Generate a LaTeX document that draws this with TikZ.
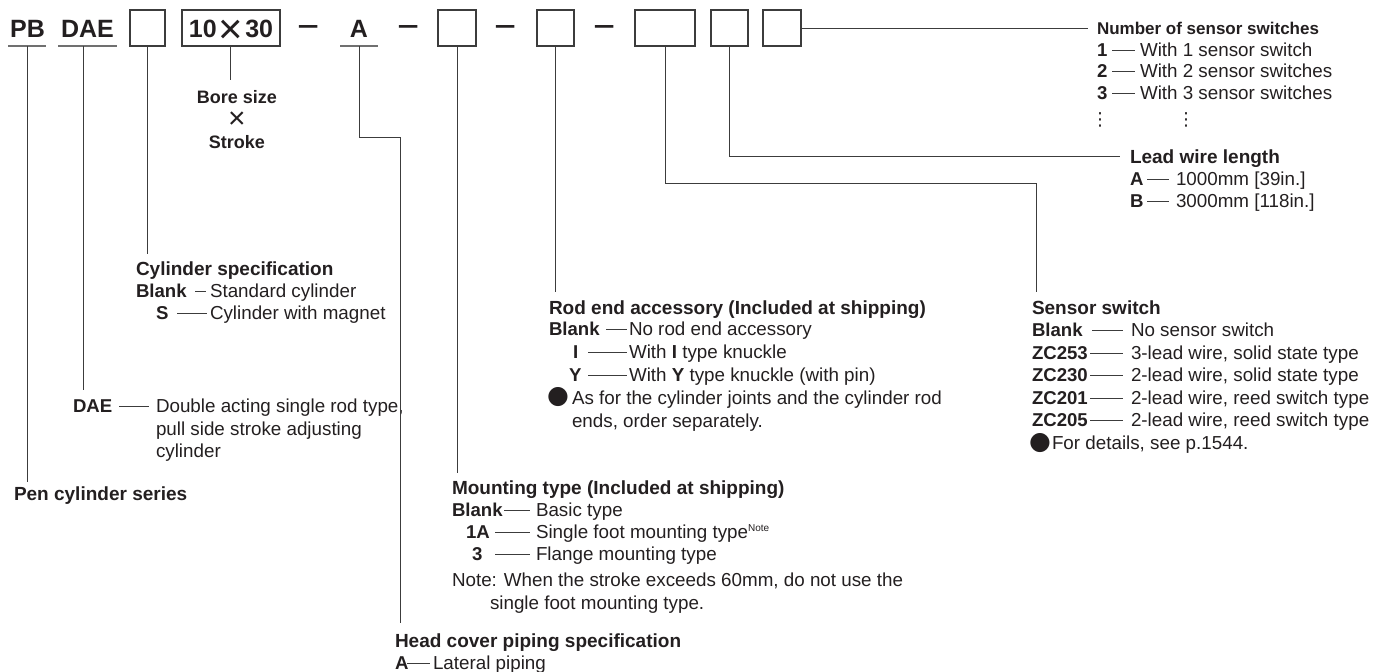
\documentclass[tikz,border=0pt]{standalone}
\usepackage{fontspec}
\setmainfont{Liberation Sans}
\newfontfamily\djv{DejaVu Sans}
\definecolor{ink}{HTML}{231F20}
\definecolor{ln}{HTML}{3C3C3C}
\definecolor{ul}{HTML}{707070}
\tikzset{
  every node/.style={inner sep=0pt, outer sep=0pt, text=ink},
  tx/.style={anchor=base west, font=\fontsize{18.8}{22}\selectfont},
  kb/.style={anchor=base west, font=\fontsize{18.6}{22}\selectfont\bfseries},
  hd/.style={anchor=base west, font=\fontsize{19}{22}\selectfont\bfseries},
  ttl/.style={anchor=base, font=\fontsize{25}{28}\selectfont\bfseries},
  boxs/.style={draw=ln, line width=1.2pt, minimum height=36pt},
  lead/.style={draw=ln, line width=1pt},
  dsh/.style={draw=ln, line width=0.8pt},
  uline/.style={draw=ul, line width=1.5pt},
  sep/.style={anchor=base, font=\fontsize{38}{38}\selectfont},
  bul/.style={font=\djv\fontsize{25}{25}\selectfont},
}
% name, keyx, dash start, dash end, text x, baseline, key, text
\newcommand\opt[8]{%
  \node[kb] (#1k) at (#2,#6) {#7};
  \node[tx] (#1t) at (#5,#6) {#8};
  \draw[dsh] (#3,#6-6) -- ([yshift=6pt]#1t.base west -| #4,0);
}
\begin{document}
\begin{tikzpicture}[x=1pt,y=-1pt]
\useasboundingbox (0,0) rectangle (1385,672);

% ---- code line ----
\node[ttl] (pb) at (27.5,37.5) {PB};
\node[ttl] (dae) at (87.5,37.5) {DAE};
\node[boxs, minimum width=35pt] (b1) at (147.5,28) {};
\node[boxs, minimum width=98pt, text height=18.6pt, text depth=0pt] (b2) at (231,28) {\fontsize{25}{26}\selectfont\bfseries 10\hspace{2pt}\raisebox{-6pt}{\fontsize{42}{42}\selectfont\mdseries ×}\hspace{2pt}30};
\node[sep] (s1) at (309,39) {−};
\node[ttl] (a) at (359,37.5) {A};
\node[sep] (s2) at (408.5,39) {−};
\node[boxs, minimum width=38pt] (b3) at (457,28) {};
\node[sep] (s3) at (506,39) {−};
\node[boxs, minimum width=37pt] (b4) at (555.5,28) {};
\node[sep] (s4) at (604.5,39) {−};
\node[boxs, minimum width=60pt] (b5) at (665,28) {};
\node[boxs, minimum width=37pt] (b6) at (729.5,28) {};
\node[boxs, minimum width=38pt] (b7) at (782,28) {};

\coordinate (pbu) at (27,46);
\coordinate (au) at (359,46);
\draw[uline] (8,46) -- (46,46);
\draw[uline] (58,46) -- (117,46);
\draw[uline] (340,46) -- (378,46);

% ---- bore x stroke ----
\node[anchor=base, font=\fontsize{18}{22}\selectfont\bfseries] (bore) at (237,103) {Bore size};
\node[font=\fontsize{30}{30}\selectfont] (tms) at (237,120) {×};
\node[anchor=base, font=\fontsize{18}{22}\selectfont\bfseries] (strk) at (237,148) {Stroke};
\draw[lead] (b2.south -| 230,0) -- (230,80);

% ---- number of sensor switches ----
\node[hd, font=\fontsize{17}{20}\selectfont\bfseries] (nh) at (1097,34) {Number of sensor switches};
\opt{n1}{1097}{1112}{1135}{1140}{56}{1}{With 1 sensor switch}
\opt{n2}{1097}{1112}{1135}{1140}{77.5}{2}{With 2 sensor switches}
\opt{n3}{1097}{1112}{1135}{1140}{99.5}{3}{With 3 sensor switches}
\node[font=\djv\fontsize{18}{18}\selectfont] (d1) at (1100,120) {⋮};
\node[font=\djv\fontsize{18}{18}\selectfont] (d2) at (1186,120) {⋮};
\draw[lead] (b7.east) -- (1088,28);

% ---- lead wire length ----
\node[hd] (lh) at (1130,163) {Lead wire length};
\opt{la}{1130}{1147}{1169}{1176}{185}{A}{1000mm [39in.]}
\opt{lb}{1130}{1147}{1169}{1176}{207.5}{B}{3000mm [118in.]}
\draw[lead] (b6.south) -- (729.5,156) -- (1120,156);

% ---- sensor switch ----
\node[hd] (sh) at (1032,314) {Sensor switch};
\opt{sa}{1032}{1092}{1123}{1131}{336}{Blank}{No sensor switch}
\opt{sb}{1032}{1090}{1123}{1131}{359}{ZC253}{3-lead wire, solid state type}
\opt{sc}{1032}{1090}{1123}{1131}{381.5}{ZC230}{2-lead wire, solid state type}
\opt{sd}{1032}{1090}{1123}{1131}{404}{ZC201}{2-lead wire, reed switch type}
\opt{se}{1032}{1090}{1123}{1131}{426.5}{ZC205}{2-lead wire, reed switch type}
\node[bul] (sbul) at (1040,443) {●};
\node[tx] (snote) at (1052,449.5) {For details, see p.1544.};
\draw[lead] (b5.south) -- (665,183) -- (1036,183) -- (1036,292);

% ---- rod end accessory ----
\node[hd] (rh) at (549,314) {Rod end accessory (Included at shipping)};
\opt{ra}{549}{606}{627}{629}{335.5}{Blank}{No rod end accessory}
\opt{rb}{573}{588}{627}{629}{358}{I}{With \textbf{I} type knuckle}
\opt{rc}{569}{588}{627}{629}{381}{Y}{With \textbf{Y} type knuckle (with pin)}
\node[bul] (rbul) at (558,397.5) {●};
\node[tx] (rn1) at (572,404) {As for the cylinder joints and the cylinder rod};
\node[tx] (rn2) at (572,427) {ends, order separately.};
\draw[lead] (b4.south) -- (555.5,292);

% ---- cylinder specification ----
\node[hd] (ch) at (136,275) {Cylinder specification};
\opt{ca}{136}{195}{206}{210}{297}{Blank}{Standard cylinder}
\opt{cb}{156}{177}{207}{210}{319}{S}{Cylinder with magnet}
\draw[lead] (b1.south) -- (147.5,254);

% ---- DAE ----
\opt{da}{73}{119}{149}{156}{412}{DAE}{Double acting single rod type,}
\node[tx] (da2) at (156,435) {pull side stroke adjusting};
\node[tx] (da3) at (156,457) {cylinder};
\draw[lead] (83,46) -- (83,390);

% ---- pen cylinder series ----
\node[hd] (ph) at (14,500) {Pen cylinder series};
\draw[lead] (pbu) -- (27,482);

% ---- mounting type ----
\node[hd] (mh) at (452,494) {Mounting type (Included at shipping)};
\opt{ma}{452}{504}{530}{536}{516}{Blank}{Basic type}
\opt{mb}{466}{495}{530}{536}{538}{1A}{Single foot mounting type\raisebox{7pt}{\fontsize{10}{10}\selectfont Note}}
\opt{mc}{472}{495}{530}{536}{560}{3}{Flange mounting type}
\node[tx] (mn1) at (452,586) {Note: When the stroke exceeds 60mm, do not use the};
\node[tx] (mn2) at (490,609) {single foot mounting type.};
\draw[lead] (b3.south) -- (457,473);

% ---- head cover piping ----
\node[hd] (hh) at (395,647) {Head cover piping specification};
\opt{ha}{395}{407}{430}{433}{669}{A}{Lateral piping}
\draw[lead] (au) -- (359,137) -- (400,137) -- (400,623);
\end{tikzpicture}
\end{document}
